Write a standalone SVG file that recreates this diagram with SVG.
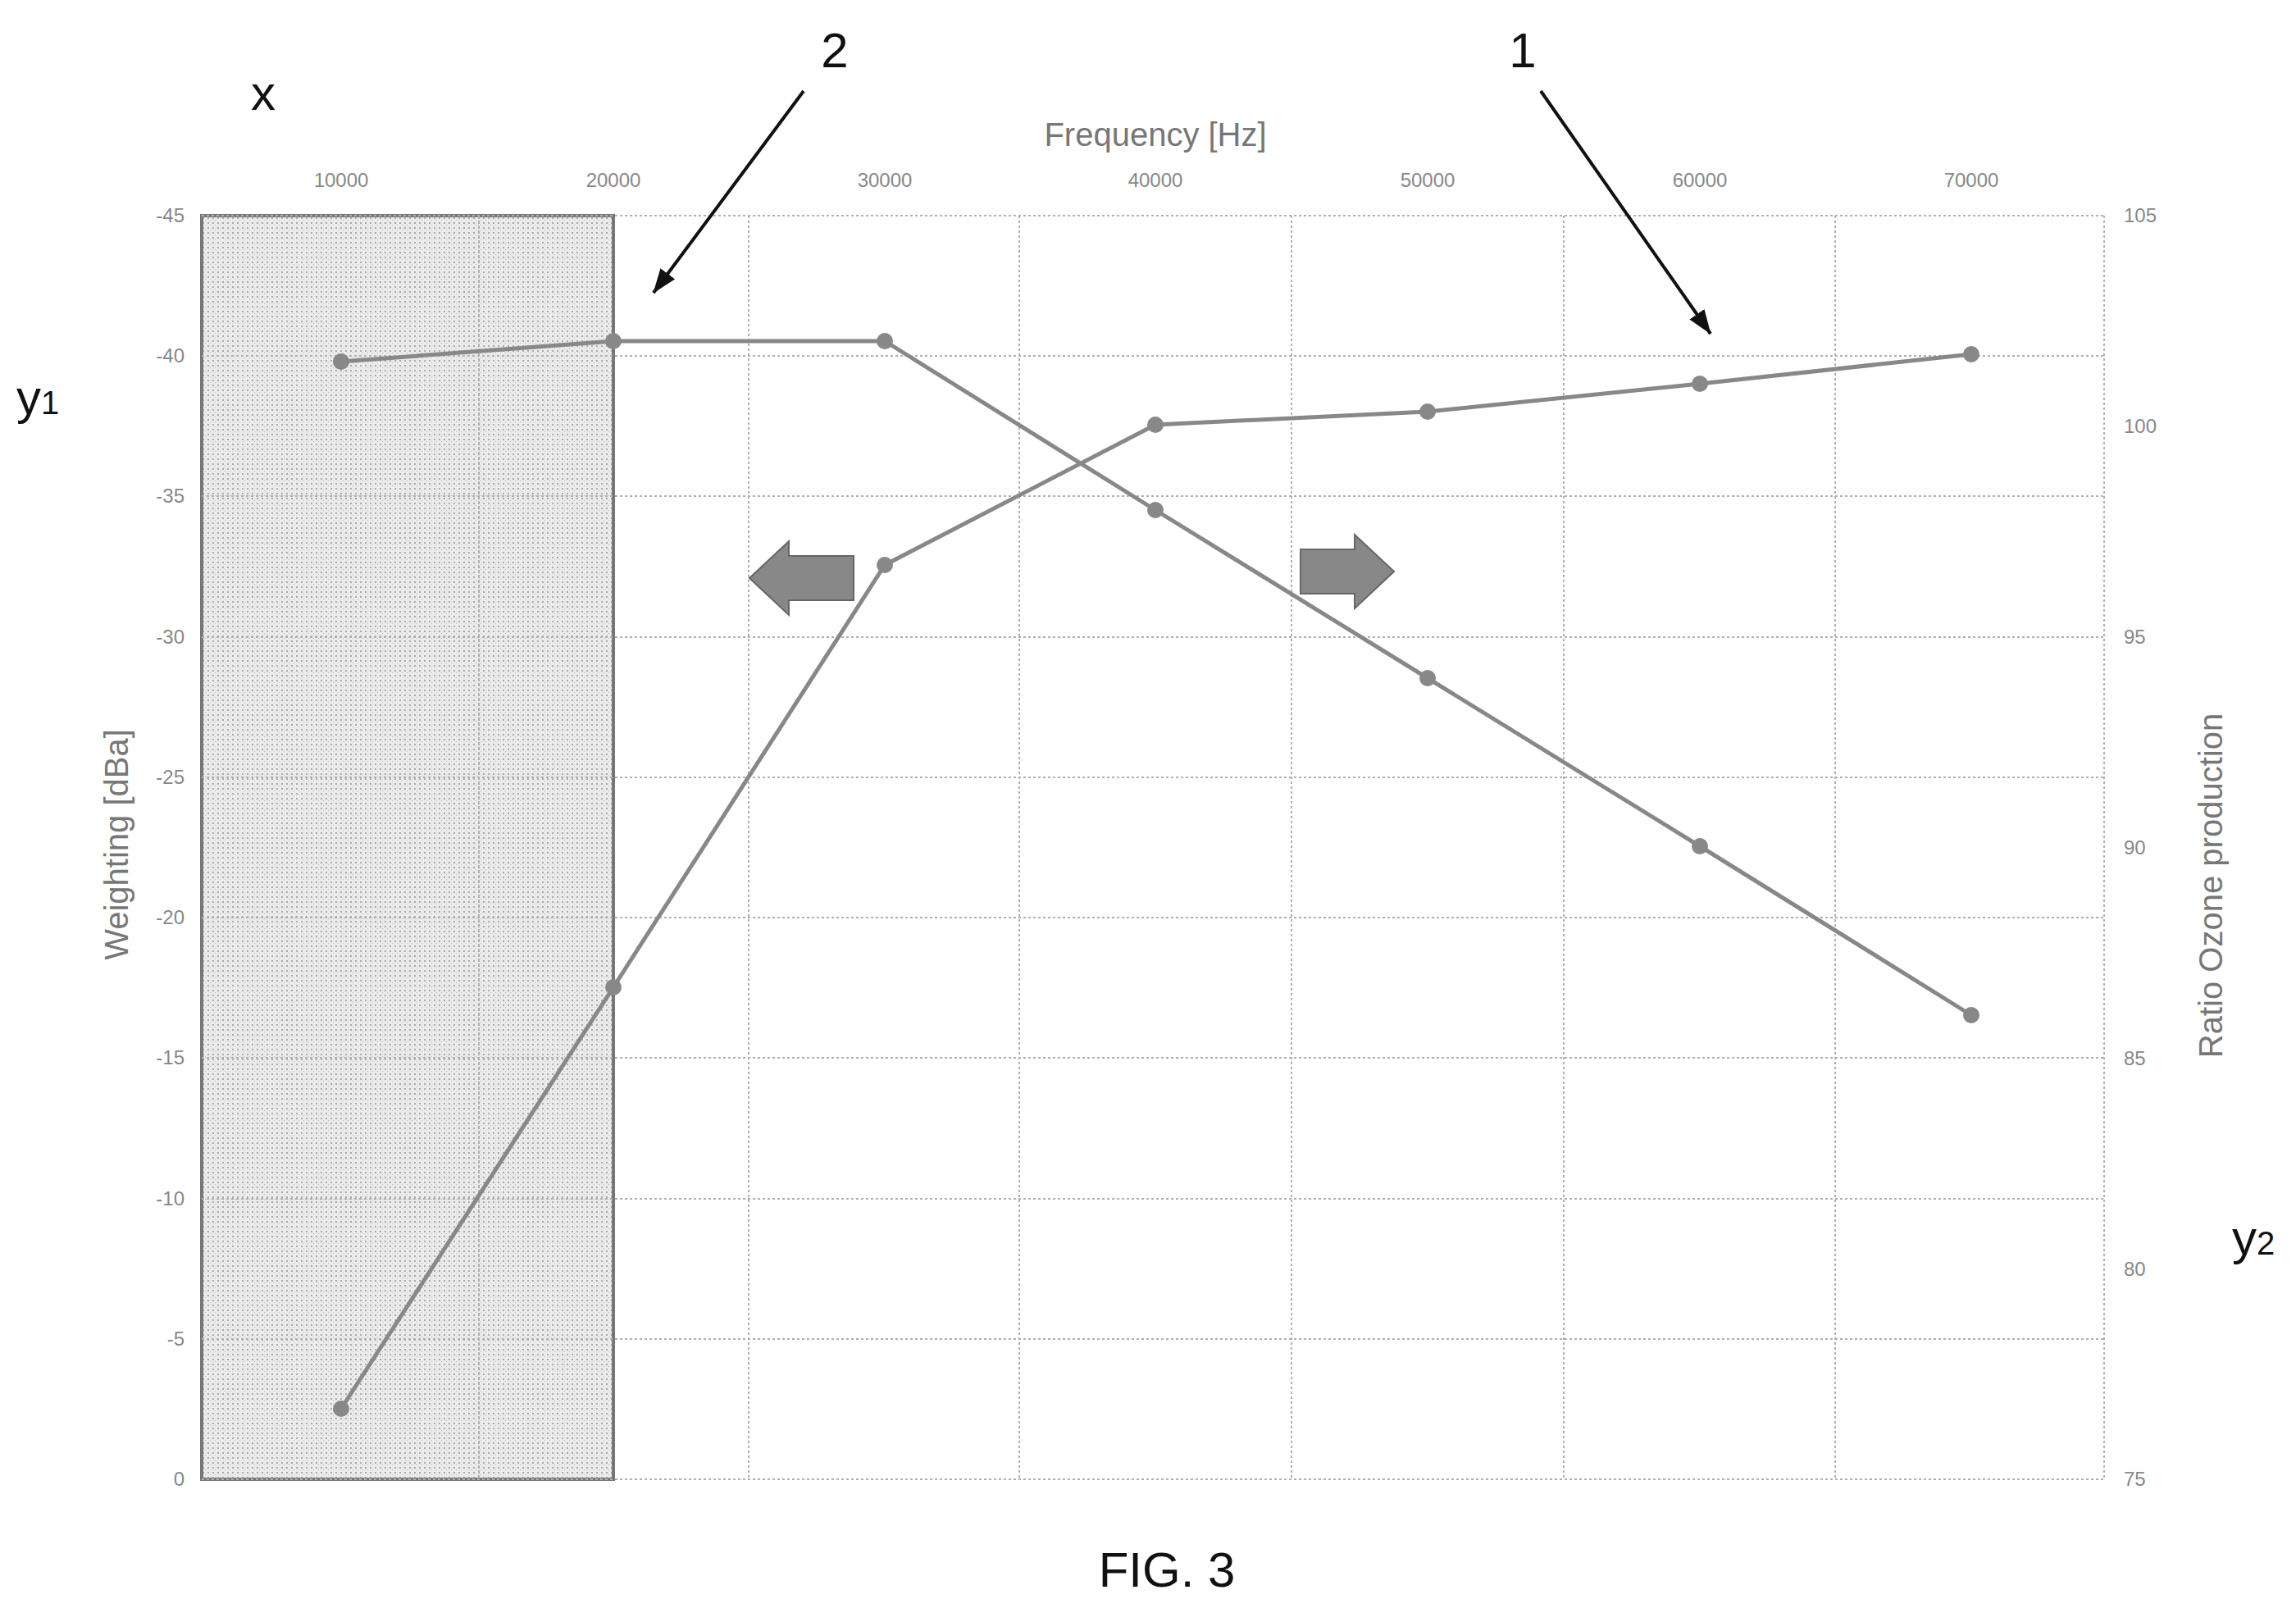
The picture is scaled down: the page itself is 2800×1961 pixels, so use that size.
<svg xmlns="http://www.w3.org/2000/svg" width="2800" height="1961" viewBox="0 0 2800 1961">
<style>
.grid{stroke:#b0b0b0;stroke-width:2;stroke-dasharray:3 3;fill:none}
.tick{font-family:"Liberation Sans",Arial,sans-serif;font-size:24px;fill:#888}
.ttl{font-family:"Liberation Sans",Arial,sans-serif;font-size:40px;fill:#777}
.big{font-family:"Liberation Sans",Arial,sans-serif;font-size:60px;fill:#111}
.ser{stroke:#888;stroke-width:5;fill:none}
.pt{fill:#888}
.call{stroke:#111;stroke-width:4;fill:none}
</style>
<defs>
<pattern id="dots" width="6" height="6" patternUnits="userSpaceOnUse">
<rect width="6" height="6" fill="#ebebeb"/><rect x="1" y="1" width="2" height="2" fill="#aaa"/><rect x="4" y="4" width="1" height="1" fill="#bbb"/>
</pattern>
<marker id="ah" markerWidth="30" markerHeight="22" refX="29" refY="11" orient="auto" markerUnits="userSpaceOnUse" viewBox="0 0 30 22">
<path d="M0,0 L30,11 L0,22 z" fill="#111"/>
</marker>
</defs>
<g id="shade"><rect x="246" y="263" width="502" height="1541" fill="url(#dots)" stroke="#777" stroke-width="4"/></g>
<g id="grid">
<path class="grid" d="M246,263H2566M246,434H2566M246,605H2566M246,777H2566M246,948H2566M246,1119H2566M246,1290H2566M246,1462H2566M246,1633H2566M246,1804H2566"/>
<path class="grid" d="M584,263V1804M913,263V1804M1243,263V1804M1575,263V1804M1907,263V1804M2238,263V1804M2566,263V1804"/>
</g>
<g id="xticks" class="tick" text-anchor="middle">
<text x="416" y="228">10000</text><text x="748" y="228">20000</text><text x="1079" y="228">30000</text><text x="1409" y="228">40000</text><text x="1741" y="228">50000</text><text x="2073" y="228">60000</text><text x="2404" y="228">70000</text>
</g>
<g id="y1ticks" class="tick" text-anchor="end">
<text x="225" y="271">-45</text><text x="225" y="442">-40</text><text x="225" y="613">-35</text><text x="225" y="785">-30</text><text x="225" y="956">-25</text><text x="225" y="1127">-20</text><text x="225" y="1298">-15</text><text x="225" y="1470">-10</text><text x="225" y="1641">-5</text><text x="225" y="1812">0</text>
</g>
<g id="y2ticks" class="tick">
<text x="2590" y="271">105</text><text x="2590" y="528">100</text><text x="2590" y="785">95</text><text x="2590" y="1042">90</text><text x="2590" y="1299">85</text><text x="2590" y="1556">80</text><text x="2590" y="1812">75</text>
</g>
<text class="ttl" x="1409" y="178" text-anchor="middle">Frequency [Hz]</text>
<text class="ttl" transform="translate(156,1030) rotate(-90)" text-anchor="middle">Weighting [dBa]</text>
<text class="ttl" transform="translate(2710,1080) rotate(-90)" text-anchor="middle">Ratio Ozone production</text>
<g id="series1">
<polyline class="ser" points="416,1718 748,1204 1079,689 1409,518 1741,502 2073,468 2404,432"/>
<g class="pt"><circle cx="416" cy="1718" r="10"/><circle cx="748" cy="1204" r="10"/><circle cx="1079" cy="689" r="10"/><circle cx="1409" cy="518" r="10"/><circle cx="1741" cy="502" r="10"/><circle cx="2073" cy="468" r="10"/><circle cx="2404" cy="432" r="10"/></g>
</g>
<g id="series2">
<polyline class="ser" points="416,441 748,416 1079,416 1409,622 1741,827 2073,1032 2404,1238"/>
<g class="pt"><circle cx="416" cy="441" r="10"/><circle cx="748" cy="416" r="10"/><circle cx="1079" cy="416" r="10"/><circle cx="1409" cy="622" r="10"/><circle cx="1741" cy="827" r="10"/><circle cx="2073" cy="1032" r="10"/><circle cx="2404" cy="1238" r="10"/></g>
</g>
<g id="leftarrow"><path d="M914,705 L962,660 L962,678 L1041,678 L1041,732 L962,732 L962,750 z" fill="#888" stroke="#666" stroke-width="2"/></g>
<g id="rightarrow"><path d="M1700,697 L1652,652 L1652,670 L1586,670 L1586,724 L1652,724 L1652,742 z" fill="#888" stroke="#666" stroke-width="2"/></g>
<g id="connectors">
<line class="call" x1="980" y1="111" x2="797" y2="357" marker-end="url(#ah)"/>
<line class="call" x1="1879" y1="111" x2="2086" y2="407" marker-end="url(#ah)"/>
</g>
<text class="big" x="1018" y="82" text-anchor="middle">2</text>
<text class="big" x="1857" y="82" text-anchor="middle">1</text>
<text class="big" x="321" y="134" text-anchor="middle">x</text>
<text class="big" x="20" y="505">y<tspan font-size="40">1</tspan></text>
<text class="big" x="2722" y="1530">y<tspan font-size="40">2</tspan></text>
<text class="big" x="1423" y="1935" text-anchor="middle">FIG. 3</text>
</svg>
